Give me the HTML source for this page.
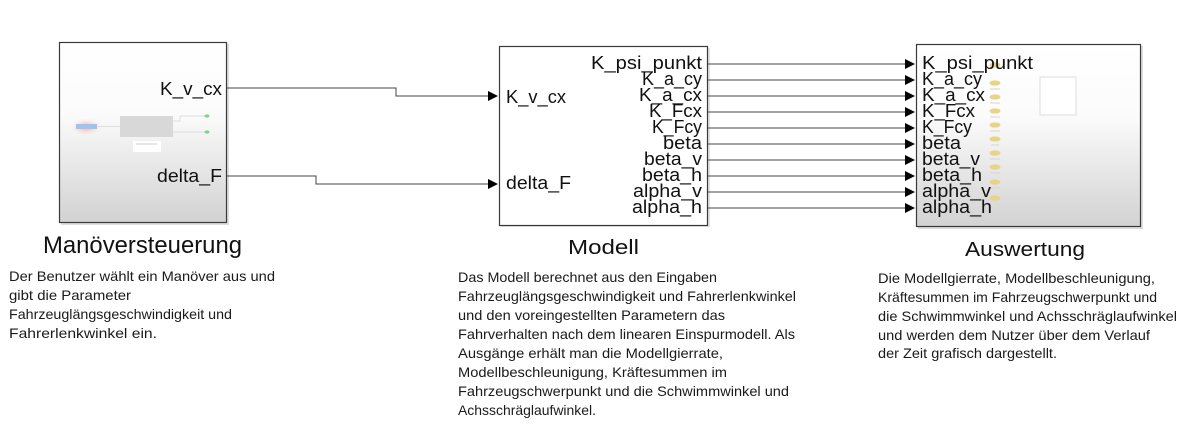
<!DOCTYPE html>
<html><head><meta charset="utf-8"><style>
html,body{margin:0;padding:0;background:#fff;}
svg{display:block;}
text{font-family:"Liberation Sans",sans-serif;}
</style></head><body>
<svg width="1200" height="443" viewBox="0 0 1200 443" xmlns="http://www.w3.org/2000/svg">
<defs>
<linearGradient id="g1" x1="0" y1="0" x2="0" y2="1">
<stop offset="0" stop-color="#ffffff"/>
<stop offset="0.4" stop-color="#fbfbfb"/>
<stop offset="1" stop-color="#d2d2d2"/>
</linearGradient>
<radialGradient id="glow" cx="0.5" cy="0.5" r="0.5">
<stop offset="0" stop-color="#f4a0a0"/>
<stop offset="1" stop-color="#fde8e8" stop-opacity="0"/>
</radialGradient>
</defs>

<!-- Block 1 -->
<rect x="61" y="44" width="168" height="181" fill="#c8c8c8" opacity="0.6"/>
<rect x="59.5" y="42.5" width="167" height="180" fill="url(#g1)" stroke="#3a3a3a" stroke-width="1.2"/>
<ellipse cx="86" cy="127" rx="16" ry="9" fill="url(#glow)"/>
<rect x="76" y="124" width="21" height="5" fill="#9cc4ec"/>
<line x1="97" y1="126.5" x2="120" y2="126.5" stroke="#ddd" stroke-width="1"/>
<rect x="120" y="116" width="53" height="21" fill="#d8d8d8"/>
<rect x="133" y="141" width="28" height="11" fill="#fff"/>
<line x1="136" y1="144" x2="157" y2="144" stroke="#ccc" stroke-width="1"/>
<polyline points="173,121 180,121 180,116 207,116" fill="none" stroke="#ddd" stroke-width="1"/>
<line x1="173" y1="132" x2="207" y2="132" stroke="#ddd" stroke-width="1"/>
<ellipse cx="207" cy="116" rx="2.5" ry="1.6" fill="#7ed67e"/>
<ellipse cx="207" cy="132" rx="2.5" ry="1.6" fill="#7ed67e"/>
<text x="160" y="95" font-size="18" textLength="62" lengthAdjust="spacingAndGlyphs" fill="#111">K_v_cx</text>
<text x="157" y="182" font-size="18" textLength="65" lengthAdjust="spacingAndGlyphs" fill="#111">delta_F</text>

<!-- connectors block1 -> block2 -->
<polyline points="227,88 396,88 396,96 489,96" fill="none" stroke="#444" stroke-width="1"/>
<polygon points="488,91 498,96 488,101" fill="#000"/>
<polyline points="227,176 316,176 316,184 489,184" fill="none" stroke="#444" stroke-width="1"/>
<polygon points="488,179 498,184 488,189" fill="#000"/>

<!-- Block 2 -->
<rect x="501" y="48" width="209" height="179" fill="#c8c8c8" opacity="0.5"/>
<rect x="499.5" y="46.5" width="208" height="179" fill="#fff" stroke="#3a3a3a" stroke-width="1.2"/>
<text x="506" y="103" font-size="18" textLength="60" lengthAdjust="spacingAndGlyphs" fill="#111">K_v_cx</text>
<text x="506" y="189" font-size="18" textLength="65" lengthAdjust="spacingAndGlyphs" fill="#111">delta_F</text>

<g font-size="18" fill="#111">
<text x="591" y="69" textLength="111" lengthAdjust="spacingAndGlyphs">K_psi_punkt</text>
<text x="642" y="85" textLength="60" lengthAdjust="spacingAndGlyphs">K_a_cy</text>
<text x="639" y="101" textLength="63" lengthAdjust="spacingAndGlyphs">K_a_cx</text>
<text x="649" y="117" textLength="53" lengthAdjust="spacingAndGlyphs">K_Fcx</text>
<text x="652" y="133" textLength="50" lengthAdjust="spacingAndGlyphs">K_Fcy</text>
<text x="663" y="149" textLength="39" lengthAdjust="spacingAndGlyphs">beta</text>
<text x="644" y="165" textLength="58" lengthAdjust="spacingAndGlyphs">beta_v</text>
<text x="642" y="181" textLength="60" lengthAdjust="spacingAndGlyphs">beta_h</text>
<text x="633" y="197" textLength="69" lengthAdjust="spacingAndGlyphs">alpha_v</text>
<text x="632" y="213" textLength="70" lengthAdjust="spacingAndGlyphs">alpha_h</text>
</g>

<!-- connectors block2 -> block3 -->
<g stroke="#444" stroke-width="1">
<line x1="708" y1="64" x2="906" y2="64"/>
<line x1="708" y1="80" x2="906" y2="80"/>
<line x1="708" y1="96" x2="906" y2="96"/>
<line x1="708" y1="112" x2="906" y2="112"/>
<line x1="708" y1="128" x2="906" y2="128"/>
<line x1="708" y1="144" x2="906" y2="144"/>
<line x1="708" y1="160" x2="906" y2="160"/>
<line x1="708" y1="176" x2="906" y2="176"/>
<line x1="708" y1="192" x2="906" y2="192"/>
<line x1="708" y1="208" x2="906" y2="208"/>
</g>
<g fill="#000">
<polygon points="905,59 915,64 905,69"/>
<polygon points="905,75 915,80 905,85"/>
<polygon points="905,91 915,96 905,101"/>
<polygon points="905,107 915,112 905,117"/>
<polygon points="905,123 915,128 905,133"/>
<polygon points="905,139 915,144 905,149"/>
<polygon points="905,155 915,160 905,165"/>
<polygon points="905,171 915,176 905,181"/>
<polygon points="905,187 915,192 905,197"/>
<polygon points="905,203 915,208 905,213"/>
</g>

<!-- Block 3 -->
<rect x="918" y="46" width="225" height="183" fill="#c8c8c8" opacity="0.6"/>
<rect x="916.5" y="44.5" width="224" height="182" fill="url(#g1)" stroke="#3a3a3a" stroke-width="1.2"/>
<rect x="1040" y="77" width="36" height="38" fill="#fff" stroke="#ddd" stroke-width="1"/>
<g fill="#e8d488">
<ellipse cx="995" cy="65" rx="5.5" ry="2.6"/>
<ellipse cx="995" cy="83" rx="5.5" ry="2.6"/>
<ellipse cx="995" cy="97" rx="5.5" ry="2.6"/>
<ellipse cx="995" cy="111" rx="5.5" ry="2.6"/>
<ellipse cx="995" cy="125" rx="5.5" ry="2.6"/>
<ellipse cx="995" cy="139" rx="5.5" ry="2.6"/>
<ellipse cx="995" cy="153" rx="5.5" ry="2.6"/>
<ellipse cx="995" cy="167" rx="5.5" ry="2.6"/>
<ellipse cx="995" cy="182" rx="5.5" ry="2.6"/>
<ellipse cx="995" cy="198" rx="5.5" ry="2.6"/>
</g>
<g stroke="#d4d4d4" stroke-width="1">
<line x1="990" y1="89" x2="1000" y2="89"/>
<line x1="990" y1="103" x2="1000" y2="103"/>
<line x1="990" y1="117" x2="1000" y2="117"/>
<line x1="990" y1="131" x2="1000" y2="131"/>
<line x1="991" y1="145" x2="999" y2="145"/>
<line x1="990" y1="159" x2="1000" y2="159"/>
<line x1="990" y1="173" x2="1000" y2="173"/>
<line x1="990" y1="188" x2="1000" y2="188"/>
</g>
<g font-size="18" fill="#111">
<text x="922" y="69" textLength="111" lengthAdjust="spacingAndGlyphs">K_psi_punkt</text>
<text x="922" y="85" textLength="60" lengthAdjust="spacingAndGlyphs">K_a_cy</text>
<text x="922" y="101" textLength="63" lengthAdjust="spacingAndGlyphs">K_a_cx</text>
<text x="922" y="117" textLength="53" lengthAdjust="spacingAndGlyphs">K_Fcx</text>
<text x="922" y="133" textLength="50" lengthAdjust="spacingAndGlyphs">K_Fcy</text>
<text x="922" y="149" textLength="39" lengthAdjust="spacingAndGlyphs">beta</text>
<text x="922" y="165" textLength="58" lengthAdjust="spacingAndGlyphs">beta_v</text>
<text x="922" y="181" textLength="60" lengthAdjust="spacingAndGlyphs">beta_h</text>
<text x="922" y="197" textLength="69" lengthAdjust="spacingAndGlyphs">alpha_v</text>
<text x="922" y="213" textLength="70" lengthAdjust="spacingAndGlyphs">alpha_h</text>
</g>

<!-- Titles -->
<text x="43" y="253" font-size="24" textLength="199" lengthAdjust="spacingAndGlyphs" fill="#111">Manöversteuerung</text>
<text x="568" y="254" font-size="20" textLength="71" lengthAdjust="spacingAndGlyphs" fill="#111">Modell</text>
<text x="965" y="256" font-size="20" textLength="120" lengthAdjust="spacingAndGlyphs" fill="#111">Auswertung</text>

<!-- Descriptions -->
<g font-size="14" fill="#1a1a1a">
<text x="9" y="281" textLength="266" lengthAdjust="spacingAndGlyphs">Der Benutzer wählt ein Manöver aus und</text>
<text x="9" y="300" textLength="122" lengthAdjust="spacingAndGlyphs">gibt die Parameter</text>
<text x="9" y="319" textLength="223" lengthAdjust="spacingAndGlyphs">Fahrzeuglängsgeschwindigkeit und</text>
<text x="9" y="338" textLength="148" lengthAdjust="spacingAndGlyphs">Fahrerlenkwinkel ein.</text>

<text x="458" y="282" textLength="259" lengthAdjust="spacingAndGlyphs">Das Modell berechnet aus den Eingaben</text>
<text x="458" y="301" textLength="338" lengthAdjust="spacingAndGlyphs">Fahrzeuglängsgeschwindigkeit und Fahrerlenkwinkel</text>
<text x="458" y="320" textLength="267" lengthAdjust="spacingAndGlyphs">und den voreingestellten Parametern das</text>
<text x="458" y="339" textLength="337" lengthAdjust="spacingAndGlyphs">Fahrverhalten nach dem linearen Einspurmodell. Als</text>
<text x="458" y="358" textLength="265" lengthAdjust="spacingAndGlyphs">Ausgänge erhält man die Modellgierrate,</text>
<text x="458" y="377" textLength="269" lengthAdjust="spacingAndGlyphs">Modellbeschleunigung, Kräftesummen im</text>
<text x="458" y="396" textLength="331" lengthAdjust="spacingAndGlyphs">Fahrzeugschwerpunkt und die Schwimmwinkel und</text>
<text x="458" y="415" textLength="138" lengthAdjust="spacingAndGlyphs">Achsschräglaufwinkel.</text>

<text x="878" y="283" textLength="277" lengthAdjust="spacingAndGlyphs">Die Modellgierrate, Modellbeschleunigung,</text>
<text x="878" y="302" textLength="279" lengthAdjust="spacingAndGlyphs">Kräftesummen im Fahrzeugschwerpunkt und</text>
<text x="878" y="321" textLength="299" lengthAdjust="spacingAndGlyphs">die Schwimmwinkel und Achsschräglaufwinkel</text>
<text x="878" y="340" textLength="272" lengthAdjust="spacingAndGlyphs">und werden dem Nutzer über dem Verlauf</text>
<text x="878" y="358" textLength="179" lengthAdjust="spacingAndGlyphs">der Zeit grafisch dargestellt.</text>
</g>
</svg>
</body></html>
